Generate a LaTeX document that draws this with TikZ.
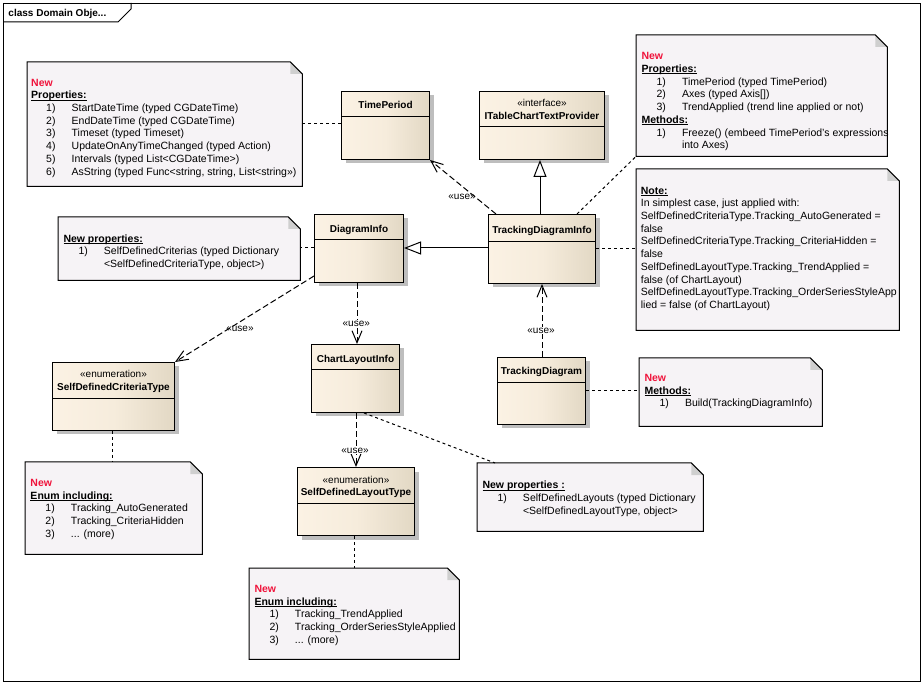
\documentclass[tikz,border=0pt]{standalone}
\usepackage{fontspec}
\setmainfont{Liberation Sans}
\usetikzlibrary{arrows.meta,calc,shadows}
\definecolor{clsL}{HTML}{FBF2E4}
\definecolor{clsM}{HTML}{F6ECDC}
\definecolor{clsR}{HTML}{E2D8C4}
\definecolor{shadowc}{HTML}{BEBEBE}
\definecolor{notefill}{HTML}{F6F3F6}
\definecolor{foldfill}{HTML}{CFCFCF}
\definecolor{newred}{HTML}{F0143C}
\newcommand\notefont{\fontsize{10.5pt}{12.7pt}\selectfont}
\newcommand\numline[2]{\hspace*{15pt}\makebox[25.5pt][l]{#1}#2}
\newcommand\contline[1]{\hspace*{40.5pt}#1}
\newcommand\newhdr{\textcolor{newred}{\textbf{New}}}
\newsavebox\uhbox
\newcommand\uhdr[1]{\sbox\uhbox{\textbf{#1}}\rlap{\rule[-1.8pt]{\wd\uhbox}{0.9pt}}\usebox\uhbox}
\newcommand\drawnote[1]{%
  \fill[notefill] (#1.north west) -- ($(#1.north east)+(-12,0)$) -- ($(#1.north east)+(0,12)$) -- (#1.south east) -- (#1.south west) -- cycle;
  \fill[foldfill] ($(#1.north east)+(-12,0)$) -- ($(#1.north east)+(-12,12)$) -- ($(#1.north east)+(0,12)$) -- cycle;
  \draw[line width=1pt] (#1.north west) -- ($(#1.north east)+(-12,0)$) -- ($(#1.north east)+(0,12)$) -- (#1.south east) -- (#1.south west) -- cycle;}
\newcommand\clssep[2]{\draw[line width=1pt] ($(#1.north west)+(0,#2)$) -- ($(#1.north east)+(0,#2)$);}
\begin{document}
\begin{tikzpicture}[x=1pt,y=-1pt,
  cls/.style={draw=black, line width=1pt, left color=clsL, right color=clsR, middle color=clsM,
    inner sep=0pt, anchor=north west,
    drop shadow={shadow xshift=4pt, shadow yshift=-4pt, fill=shadowc, opacity=1}},
  clsname/.style={font=\fontsize{10pt}{12pt}\selectfont\bfseries, anchor=base, inner sep=0pt},
  stereo/.style={font=\fontsize{10pt}{12pt}\selectfont, anchor=base, inner sep=0pt},
  notebox/.style={draw=none, inner sep=0pt, anchor=north west},
  notetext/.style={font=\notefont, align=left, anchor=north west, inner sep=0pt},
  gen/.style={line width=1pt, -{Triangle[length=17pt,width=13pt,fill=white]}},
  dep/.style={line width=1pt, dash pattern=on 6pt off 3pt, -{Straight Barb[length=12pt,width=10pt]}},
  link/.style={line width=1pt, dash pattern=on 3pt off 3pt},
  uselbl/.style={font=\fontsize{10pt}{12pt}\selectfont, inner sep=1pt},
  uselblw/.style={uselbl, fill=white}
]
\useasboundingbox (0,0) rectangle (924,684);
\fill[white] (0,0) rectangle (924,684);

% frame
\node[draw, line width=1pt, inner sep=0pt, anchor=north west, minimum width=917pt, minimum height=678pt] (frame) at (3,3) {};
\draw[line width=1pt] ($(frame.north west)+(0,19)$) -- ($(frame.north west)+(115,19)$) -- ($(frame.north west)+(128,6)$) -- ($(frame.north west)+(128,0)$);
\node[font=\fontsize{10pt}{12pt}\selectfont\bfseries, anchor=base west, inner sep=0pt] (flbl) at (8.3,17) {class Domain Obje...};

% notes
\node[notebox, minimum width=275pt, minimum height=124pt] (n1) at (27,62) {};
\drawnote{n1}
\node[notetext] (n1t) at (31,77) {\rule{0pt}{9pt}\newhdr\\
\uhdr{Properties:}\\
\numline{1)}{StartDateTime (typed CGDateTime)}\\
\numline{2)}{EndDateTime (typed CGDateTime)}\\
\numline{3)}{Timeset (typed Timeset)}\\
\numline{4)}{UpdateOnAnyTimeChanged (typed Action)}\\
\numline{5)}{Intervals (typed List<CGDateTime>)}\\
\numline{6)}{AsString (typed Func<string, string, List<string>>)}};

\node[notebox, minimum width=251pt, minimum height=121pt] (n2) at (636,35) {};
\drawnote{n2}
\node[notetext] (n2t) at (641.3,50.7) {\rule{0pt}{9pt}\newhdr\\
\uhdr{Properties:}\\
\numline{1)}{TimePeriod (typed TimePeriod)}\\
\numline{2)}{Axes (typed Axis[])}\\
\numline{3)}{TrendApplied (trend line applied or not)}\\
\uhdr{Methods:}\\
\numline{1)}{Freeze() (embeed TimePeriod\char"0027 s expressions}\\
\contline{into Axes)}};

\node[notebox, minimum width=263pt, minimum height=161pt] (n3) at (636,169) {};
\drawnote{n3}
\begin{scope}
\clip ($(n3.north west)+(1,1)$) rectangle ($(n3.south east)+(-1,-1)$);
\node[notetext] (n3t) at (640.7,185) {\rule{0pt}{9pt}\uhdr{Note:}\\
In simplest case, just applied with:\\
SelfDefinedCriteriaType.Tracking\_AutoGenerated =\\
false\\
SelfDefinedCriteriaType.Tracking\_CriteriaHidden =\\
false\\
SelfDefinedLayoutType.Tracking\_TrendApplied =\\
false (of ChartLayout)\\
SelfDefinedLayoutType.Tracking\_OrderSeriesStyleApp\\
lied = false (of ChartLayout)};
\end{scope}

\node[notebox, minimum width=242pt, minimum height=63pt] (n4) at (58,217) {};
\drawnote{n4}
\node[notetext] (n4t) at (63.3,233) {\rule{0pt}{9pt}\uhdr{New properties:}\\
\numline{1)}{SelfDefinedCriterias (typed Dictionary}\\
\contline{<SelfDefinedCriteriaType, object>)}};

\node[notebox, minimum width=226pt, minimum height=68pt] (n5) at (477,463) {};
\drawnote{n5}
\node[notetext] (n5t) at (482.3,479.5) {\rule{0pt}{9pt}\uhdr{New properties :}\\
\numline{1)}{SelfDefinedLayouts (typed Dictionary}\\
\contline{<SelfDefinedLayoutType, object>}};

\node[notebox, minimum width=183pt, minimum height=68pt] (n6) at (639,358) {};
\drawnote{n6}
\node[notetext] (n6t) at (644.3,372.3) {\rule{0pt}{9pt}\newhdr\\
\uhdr{Methods:}\\
\numline{1)}{Build(TrackingDiagramInfo)}};

\node[notebox, minimum width=177pt, minimum height=92pt] (n7) at (25,462) {};
\drawnote{n7}
\node[notetext] (n7t) at (30.3,477.3) {\rule{0pt}{9pt}\newhdr\\
\uhdr{Enum including:}\\
\numline{1)}{Tracking\_AutoGenerated}\\
\numline{2)}{Tracking\_CriteriaHidden}\\
\numline{3)}{... (more)}};

\node[notebox, minimum width=210pt, minimum height=91pt] (n8) at (249,568) {};
\drawnote{n8}
\node[notetext] (n8t) at (254.3,583.3) {\rule{0pt}{9pt}\newhdr\\
\uhdr{Enum including:}\\
\numline{1)}{Tracking\_TrendApplied}\\
\numline{2)}{Tracking\_OrderSeriesStyleApplied}\\
\numline{3)}{... (more)}};

% classes
\node[cls, minimum width=88pt, minimum height=68pt] (tp) at (341,91) {};
\clssep{tp}{26}
\node[clsname] (tpN) at ($(tp.north)+(0,18)$) {TimePeriod};

\node[cls, minimum width=125pt, minimum height=68pt] (itp) at (479,91) {};
\clssep{itp}{36}
\node[stereo] (itpS) at ($(itp.north)+(0,16)$) {«interface»};
\node[clsname] (itpN) at ($(itp.north)+(0,29)$) {ITableChartTextProvider};

\node[cls, minimum width=89pt, minimum height=68pt] (di) at (314,214) {};
\clssep{di}{26}
\node[clsname] (diN) at ($(di.north)+(0,19)$) {DiagramInfo};

\node[cls, minimum width=107pt, minimum height=69pt] (tdi) at (488,214) {};
\clssep{tdi}{28}
\node[clsname] (tdiN) at ($(tdi.north)+(0,20)$) {TrackingDiagramInfo};

\node[cls, minimum width=122pt, minimum height=68pt] (sdct) at (52,362) {};
\clssep{sdct}{37}
\node[stereo] (sdctS) at ($(sdct.north)+(0,16)$) {«enumeration»};
\node[clsname] (sdctN) at ($(sdct.north)+(0,29)$) {SelfDefinedCriteriaType};

\node[cls, minimum width=88pt, minimum height=68pt] (cli) at (311,344) {};
\clssep{cli}{26}
\node[clsname] (cliN) at ($(cli.north)+(0,19)$) {ChartLayoutInfo};

\node[cls, minimum width=117pt, minimum height=68pt] (sdlt) at (297,467) {};
\clssep{sdlt}{36}
\node[stereo] (sdltS) at ($(sdlt.north)+(0,16)$) {«enumeration»};
\node[clsname] (sdltN) at ($(sdlt.north)+(0,29)$) {SelfDefinedLayoutType};

\node[cls, minimum width=88pt, minimum height=67pt] (td) at (497,357) {};
\clssep{td}{26}
\node[clsname] (tdN) at ($(td.north)+(0,18)$) {TrackingDiagram};

% generalizations
\coordinate (g1) at ($(tdi.north west)+(0,34)$);
\draw[gen] (g1) -- (g1 -| di.east);
\coordinate (g2) at ($(tdi.north west)+(52,0)$);
\draw[gen] (g2) -- (g2 |- itp.south);

% dependencies
\draw[dep] ($(tdi.north west)+(8,0)$) -- (tp.south east);
\draw[dep] ($(di.north west)+(0,62)$) -- (sdct.north east);
\coordinate (d3) at ($(di.south west)+(43,0)$);
\draw[dep] (d3) -- (d3 |- cli.north);
\coordinate (d4) at ($(cli.south west)+(45,0)$);
\draw[dep] (d4) -- (d4 |- sdlt.north);
\coordinate (d5) at ($(td.north west)+(45,0)$);
\draw[dep] (d5) -- (d5 |- tdi.south);

\node[uselbl] (u1) at (462,196.7) {«use»};
\node[uselbl] (u2) at (240,329.3) {«use»};
\node[uselblw] (u3) at (356.3,324) {«use»};
\node[uselblw] (u4) at (355,450.7) {«use»};
\node[uselblw] (u5) at (541,330.7) {«use»};

% note links
\coordinate (l1) at ($(tp.north west)+(0,33)$);
\draw[link] (l1) -- (l1 -| n1.east);
\draw[link] ($(tdi.north west)+(89,0)$) -- (n2.south west);
\coordinate (l3) at ($(tdi.north east)+(0,35)$);
\draw[link] (l3) -- (l3 -| n3.west);
\coordinate (l4) at ($(di.north west)+(0,34)$);
\draw[link] (l4) -- (l4 -| n4.east);
\draw[link] ($(cli.south west)+(53,0)$) -- ($(n5.north west)+(18,0)$);
\coordinate (l6) at ($(td.north east)+(0,34)$);
\draw[link] (l6) -- (l6 -| n6.west);
\coordinate (l7) at ($(sdct.south west)+(60,0)$);
\draw[link] (l7) -- (l7 |- n7.north);
\coordinate (l8) at ($(sdlt.south west)+(57,0)$);
\draw[link] (l8) -- (l8 |- n8.north);
\end{tikzpicture}
\end{document}
